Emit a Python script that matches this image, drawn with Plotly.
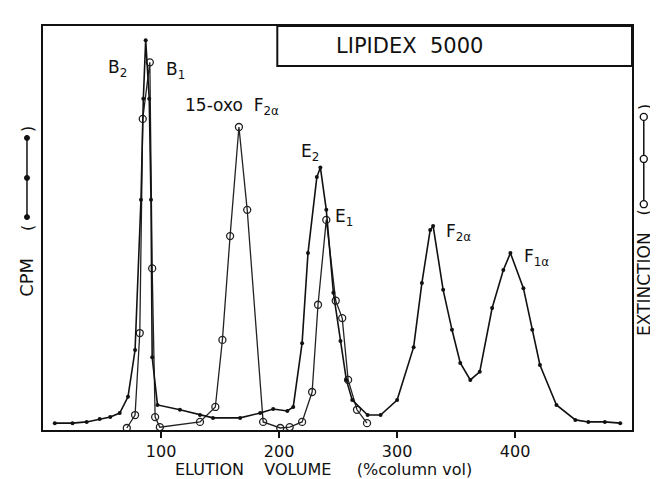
import plotly.graph_objects as go

# CPM (filled dots)
cpm_x = [10, 25, 37, 48, 57, 65, 72, 78, 83, 85, 87, 90, 91.5, 92.5, 97, 116, 133, 144, 167, 184, 195, 207, 212,
         219.5, 224.5, 232, 235, 240, 246, 252, 257, 262, 275, 286, 300, 314, 321, 328, 330.5, 339, 346.5, 353.5,
         362, 370, 380.5, 390, 396, 407, 414.5, 421, 435, 451, 462, 476, 489]
cpm_y = [1.7, 1.7, 2.0, 2.7, 3.2, 4.2, 8.2, 19.8, 57, 82, 96.5, 82, 57, 18, 6.2, 5.0, 3.7, 3.0, 3.0, 4.2, 5.2, 4.7, 5.7,
         21.5, 43.8, 62.6, 65, 54.5, 34, 22, 12.4, 7.4, 3.7, 3.7, 7.4, 20.5, 36.4, 49.5, 50.5, 34.7, 24.8, 16.6,
         12.4, 14.4, 30.2, 39.6, 43.8, 35.1, 24.8, 16.1, 6.2, 2.5, 2.0, 2.0, 1.7]

# Extinction (open circles)
ext_x = [71, 78, 82, 84.5, 90.5, 92.5, 95, 99, 133, 146, 152, 158.5, 166, 173, 186.5, 201, 209, 219.5, 228, 233,
         240, 248, 253.5, 258.5, 266, 274.5]
ext_y = [0.5, 3.7, 24, 77, 91, 40, 3.2, 0.7, 2.0, 5.7, 22.3, 48, 75, 54.5, 2.0, 0.5, 0.7, 2.0, 9.4, 31, 52, 32,
         27.7, 12.4, 5, 1.7]

x_ticks = [100, 200, 300, 400]

peak_labels = ["B<sub>2</sub>", "B<sub>1</sub>", "15-oxo  F<sub>2α</sub>", "E<sub>2</sub>", "E<sub>1</sub>",
               "F<sub>2α</sub>", "F<sub>1α</sub>"]
label_x = [63, 112, 160, 226, 255, 352, 418]
label_y = [89.6, 89, 80, 68.6, 52.5, 48.8, 42.6]

FONT = "DejaVu Sans"
INK = "#111"

fig = go.Figure()
fig.add_trace(go.Scatter(x=ext_x, y=ext_y, mode="lines+markers",
                         line=dict(color="#222", width=1.3),
                         marker=dict(symbol="circle-open", size=7, color="#222", line=dict(width=1.3)),
                         showlegend=False))
fig.add_trace(go.Scatter(x=cpm_x, y=cpm_y, mode="lines+markers",
                         line=dict(color=INK, width=1.6),
                         marker=dict(symbol="circle", size=4, color=INK),
                         showlegend=False))

for t, lx, ly in zip(peak_labels, label_x, label_y):
    fig.add_annotation(x=lx, y=ly, text=t, showarrow=False, font=dict(family=FONT, size=17, color=INK))

fig.add_shape(type="rect", xref="x", yref="y", x0=198.5, x1=499, y0=90.1, y1=100,
              line=dict(color=INK, width=2), fillcolor="white")
fig.add_annotation(x=310.6, y=95, text="LIPIDEX  5000", showarrow=False,
                   font=dict(family=FONT, size=21, color=INK))

# axis titles (rotated) with drawn legend keys
LX = -0.0272
fig.add_annotation(xref="paper", yref="paper", x=LX, y=0.379, xanchor="center", yanchor="middle",
                   text="CPM", textangle=-90, showarrow=False, font=dict(family=FONT, size=18, color=INK))
fig.add_annotation(xref="paper", yref="paper", x=LX, y=0.500, xanchor="center", yanchor="middle",
                   text="(", textangle=-90, showarrow=False, font=dict(family=FONT, size=16, color=INK))
fig.add_annotation(xref="paper", yref="paper", x=LX, y=0.745, xanchor="center", yanchor="middle",
                   text=")", textangle=-90, showarrow=False, font=dict(family=FONT, size=16, color=INK))
fig.add_shape(type="line", xref="paper", yref="paper", x0=LX, x1=LX, y0=0.527, y1=0.723,
              line=dict(color=INK, width=1.5))
for yy in (0.527, 0.624, 0.723):
    fig.add_shape(type="circle", xref="paper", yref="paper", xsizemode="pixel", ysizemode="pixel",
                  xanchor=LX, yanchor=yy, x0=-2.5, x1=2.5, y0=-2.5, y1=2.5,
                  fillcolor=INK, line=dict(color=INK, width=1))

RX = 1.020
fig.add_annotation(xref="paper", yref="paper", x=RX, y=0.361, xanchor="center", yanchor="middle",
                   text="EXTINCTION", textangle=-90, showarrow=False, font=dict(family=FONT, size=17, color=INK))
fig.add_annotation(xref="paper", yref="paper", x=RX, y=0.538, xanchor="center", yanchor="middle",
                   text="(", textangle=-90, showarrow=False, font=dict(family=FONT, size=16, color=INK))
fig.add_annotation(xref="paper", yref="paper", x=RX, y=0.799, xanchor="center", yanchor="middle",
                   text=")", textangle=-90, showarrow=False, font=dict(family=FONT, size=16, color=INK))
fig.add_shape(type="line", xref="paper", yref="paper", x0=RX, x1=RX, y0=0.559, y1=0.775,
              line=dict(color=INK, width=1.5))
for yy in (0.559, 0.671, 0.775):
    fig.add_shape(type="circle", xref="paper", yref="paper", xsizemode="pixel", ysizemode="pixel",
                  xanchor=RX, yanchor=yy, x0=-3.5, x1=3.5, y0=-3.5, y1=3.5,
                  fillcolor="white", line=dict(color=INK, width=1.4))

fig.add_annotation(xref="paper", yref="paper", x=0.476, y=-0.097, xanchor="center", yanchor="middle",
                   text="ELUTION    VOLUME     (%column vol)", showarrow=False,
                   font=dict(family=FONT, size=16, color=INK))

fig.update_layout(
    width=650, height=471,
    margin=dict(l=35, r=26, t=18, b=49),
    paper_bgcolor="white", plot_bgcolor="white",
    font=dict(family=FONT, color=INK),
)
fig.update_xaxes(range=[0, 499], tickvals=x_ticks, ticktext=[str(v) for v in x_ticks],
                 ticks="outside", ticklen=6, tickwidth=1.5, tickcolor=INK,
                 showline=True, linecolor=INK, linewidth=2, mirror=True, showgrid=False, zeroline=False,
                 tickfont=dict(family=FONT, size=16))
fig.update_yaxes(range=[0, 100], showticklabels=False, ticks="",
                 showline=True, linecolor=INK, linewidth=2, mirror=True, showgrid=False, zeroline=False)

fig.write_html("out.html")
